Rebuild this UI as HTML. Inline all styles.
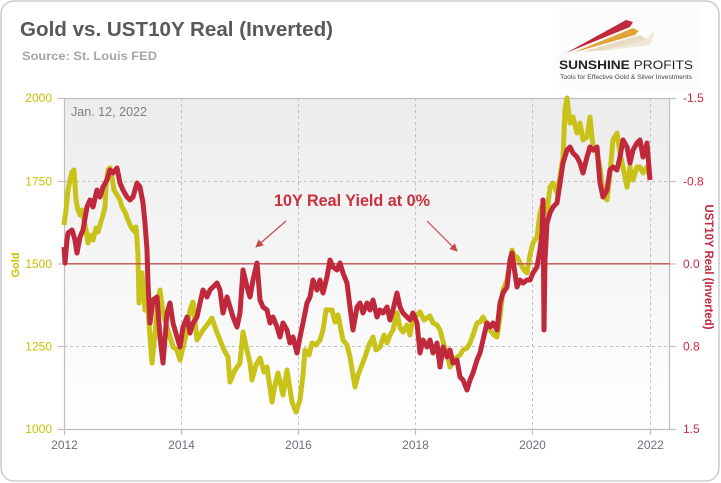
<!DOCTYPE html>
<html><head><meta charset="utf-8"><style>
html,body{margin:0;padding:0;background:#fff;width:721px;height:483px;overflow:hidden}
svg{display:block}
text{font-family:"Liberation Sans",sans-serif}
</style></head><body>
<svg width="721" height="483" viewBox="0 0 721 483" xmlns="http://www.w3.org/2000/svg">
<defs>
<linearGradient id="bg" x1="0" y1="0" x2="0" y2="1">
<stop offset="0" stop-color="#ececec"/><stop offset="1" stop-color="#ffffff"/>
</linearGradient>
<marker id="ah" markerWidth="8" markerHeight="8" refX="7" refY="4" orient="auto" markerUnits="userSpaceOnUse">
<path d="M0,0 L8,4 L0,8 Z" fill="#c44a4d"/>
</marker>
</defs>
<rect x="1" y="1" width="718" height="480" rx="13" ry="13" fill="#fff" stroke="#c4c4c4" stroke-width="1.3"/>
<text x="20" y="36" font-size="20.5" font-weight="bold" fill="#595959" textLength="313" lengthAdjust="spacingAndGlyphs">Gold vs. UST10Y Real (Inverted)</text>
<text x="22" y="60" font-size="12" font-weight="bold" fill="#a6a6a6" textLength="135" lengthAdjust="spacingAndGlyphs">Source: St. Louis FED</text>
<!-- logo -->
<rect x="553" y="7" width="146" height="83" fill="#fcfcfc"/>
<polygon points="566,53 626,20 633,22 630,27" fill="#c0283c"/>
<polygon points="572,53 633,28 639,31 635,35" fill="#e0a43a"/>
<polygon points="582,52 640,35 648,40 610,50" fill="#e8dcc4"/>
<polygon points="600,51 645,40 655,30 650,45" fill="#efe7d8"/>
<text x="559" y="69" font-size="12" fill="#222" textLength="134" lengthAdjust="spacingAndGlyphs"><tspan font-weight="bold">SUNSHINE</tspan> PROFITS</text>
<text x="560" y="79" font-size="6.3" fill="#444" textLength="132" lengthAdjust="spacingAndGlyphs">Tools for Effective Gold &amp; Silver Investments</text>
<!-- plot area -->
<rect x="64" y="98" width="606" height="331" fill="url(#bg)"/>
<g stroke="#c0c0c0" stroke-width="1" stroke-dasharray="3,3" fill="none">
<line x1="181.5" y1="98" x2="181.5" y2="429"/>
<line x1="298.5" y1="98" x2="298.5" y2="429"/>
<line x1="415.5" y1="98" x2="415.5" y2="429"/>
<line x1="532.5" y1="98" x2="532.5" y2="429"/>
<line x1="650.5" y1="98" x2="650.5" y2="429"/>
<line x1="64" y1="181.5" x2="670" y2="181.5"/>
<line x1="64" y1="346.5" x2="670" y2="346.5"/>
</g>
<g stroke="#bfbfbf" stroke-width="1.2" fill="none">
<line x1="58" y1="98.5" x2="676" y2="98.5"/>
<line x1="58" y1="429.5" x2="676" y2="429.5"/>
<line x1="64.5" y1="98" x2="64.5" y2="435"/>
<line x1="669.5" y1="98" x2="669.5" y2="429"/>
<line x1="58" y1="181.5" x2="64" y2="181.5"/>
<line x1="58" y1="264" x2="64" y2="264"/>
<line x1="58" y1="346.5" x2="64" y2="346.5"/>
<line x1="670" y1="181.5" x2="676" y2="181.5"/>
<line x1="670" y1="264" x2="676" y2="264"/>
<line x1="670" y1="346.5" x2="676" y2="346.5"/>
<line x1="181.5" y1="429" x2="181.5" y2="435"/>
<line x1="298.5" y1="429" x2="298.5" y2="435"/>
<line x1="415.5" y1="429" x2="415.5" y2="435"/>
<line x1="532.5" y1="429" x2="532.5" y2="435"/>
<line x1="650.5" y1="429" x2="650.5" y2="435"/>
</g>
<text x="71" y="116" font-size="12.5" fill="#808080" textLength="76" lengthAdjust="spacingAndGlyphs">Jan. 12, 2022</text>
<!-- gold -->
<polyline fill="none" stroke="#c9c218" stroke-width="5" stroke-linejoin="round" points="64,225 66,210 68,190 70,180 72,172 74,170 76,200 78,210 80,215 82,210 84,220 86,230 88,243 90,235 93,240 96,228 98,232 100,225 103,215 105,207 106,185 108,170 110,168 112,178 114,190 117,195 120,200 122,207 125,212 128,220 130,225 133,230 135,232 136,227 137,240 138,255 139,303 142,273 145,310 147,297 150,337 152,363 155,333 158,300 160,290 163,313 167,327 170,337 173,347 177,350 180,360 186,335 190,310 193,302 197,340 203,330 207,325 212,318 216,330 220,340 224,350 228,357 230,382 235,370 240,363 243,332 247,350 250,363 252,380 256,365 260,358 264,372 267,367 272,402 275,385 278,373 283,395 287,370 292,402 296,412 300,400 303,375 305,350 309,355 312,343 316,345 320,340 323,330 326,310 332,310 335,322 338,315 343,340 347,345 350,357 355,387 358,375 360,370 365,357 369,345 373,337 376,350 380,347 384,335 387,343 390,335 393,330 397,313 400,328 403,332 407,325 410,335 413,318 417,315 420,312 424,320 427,318 430,316 433,323 437,325 440,330 444,345 447,353 450,367 454,360 457,357 460,355 463,350 467,348 470,343 473,335 477,323 480,322 483,317 487,325 490,330 494,335 497,337 500,317 503,290 507,280 510,262 512,250 515,258 517,257 520,263 524,270 527,273 530,255 533,243 537,237 540,213 543,203 547,213 550,187 553,183 557,193 560,177 563,157 565,110 567,98 570,123 573,117 577,133 580,123 583,140 587,137 590,117 593,147 597,153 600,167 603,193 607,200 610,173 613,140 617,133 620,153 623,167 627,187 630,167 633,180 637,167 640,167 643,173 647,167 650,177"/>
<!-- zero line -->
<line x1="64" y1="263.8" x2="670" y2="263.8" stroke="#c0504d" stroke-width="1.3"/>
<!-- red -->
<polyline fill="none" stroke="#c0283c" stroke-width="5" stroke-linejoin="round" points="64,247 65,263 67,240 68,233 72,230 75,240 77,253 80,237 83,230 87,207 90,200 93,207 97,190 100,197 103,187 107,180 110,170 113,173 117,168 120,183 123,190 127,197 130,200 133,197 137,183 140,187 143,203 145,223 147,250 148,283 150,323 153,300 157,297 160,337 163,363 167,313 170,303 173,323 177,337 180,347 183,327 187,317 190,333 193,323 197,317 200,303 203,290 207,297 210,290 213,287 217,283 220,290 223,313 227,297 230,307 233,317 237,327 240,313 243,270 247,287 250,297 253,280 257,263 260,300 263,307 267,310 270,323 273,317 277,327 280,337 283,323 287,330 290,343 293,337 297,353 300,337 303,323 307,303 310,297 313,280 317,290 320,280 323,293 327,277 330,260 333,267 337,270 340,263 343,273 347,283 350,307 353,330 357,307 360,303 363,313 367,303 370,310 373,300 377,317 380,310 383,313 387,307 390,320 393,310 397,293 400,307 403,313 407,317 410,320 413,313 417,323 420,353 423,340 427,347 430,340 433,353 437,343 440,367 443,347 447,357 450,350 453,363 457,360 460,377 463,380 467,390 470,380 473,373 477,360 480,353 483,340 487,323 490,327 493,323 497,330 500,303 503,293 507,287 510,260 512,253 517,287 520,280 523,283 527,280 530,280 533,273 537,267 540,250 542,233 543,200 544,330 545,260 547,223 550,213 553,207 557,203 560,183 563,163 567,150 570,147 573,153 577,157 580,163 583,173 587,157 590,147 593,150 597,147 600,183 603,197 607,190 610,170 613,167 617,170 620,157 623,140 627,147 630,163 633,150 637,143 640,140 643,157 647,143 650,180"/>
<!-- annotation -->
<text x="274" y="206" font-size="16.5" font-weight="bold" fill="#c8303f" textLength="156" lengthAdjust="spacingAndGlyphs">10Y Real Yield at 0%</text>
<line x1="286" y1="221" x2="256" y2="247" stroke="#c44a4d" stroke-width="1.2" marker-end="url(#ah)"/>
<line x1="427" y1="221" x2="457" y2="251" stroke="#c44a4d" stroke-width="1.2" marker-end="url(#ah)"/>
<!-- left axis labels -->
<g font-size="12" fill="#c9c000" text-anchor="end">
<text x="52" y="102">2000</text>
<text x="52" y="185.5">1750</text>
<text x="52" y="268">1500</text>
<text x="52" y="350.5">1250</text>
<text x="52" y="433">1000</text>
</g>
<text transform="translate(19,265) rotate(-90)" font-size="11" font-weight="bold" fill="#c9c000" text-anchor="middle">Gold</text>
<!-- right axis labels -->
<g font-size="12" fill="#d0283c">
<text x="683" y="102">-1.5</text>
<text x="683" y="185.5">-0.8</text>
<text x="683" y="268">0.0</text>
<text x="683" y="350.5">0.8</text>
<text x="683" y="433">1.5</text>
</g>
<text transform="translate(705,267) rotate(90)" font-size="11.5" font-weight="bold" fill="#c0283c" text-anchor="middle" textLength="125" lengthAdjust="spacingAndGlyphs">UST10Y Real (Inverted)</text>
<!-- x labels -->
<g font-size="12" fill="#6e6e7e" text-anchor="middle">
<text x="64.5" y="449">2012</text>
<text x="181.5" y="449">2014</text>
<text x="298.5" y="449">2016</text>
<text x="415.5" y="449">2018</text>
<text x="532.5" y="449">2020</text>
<text x="650.5" y="449">2022</text>
</g>
</svg>
</body></html>
